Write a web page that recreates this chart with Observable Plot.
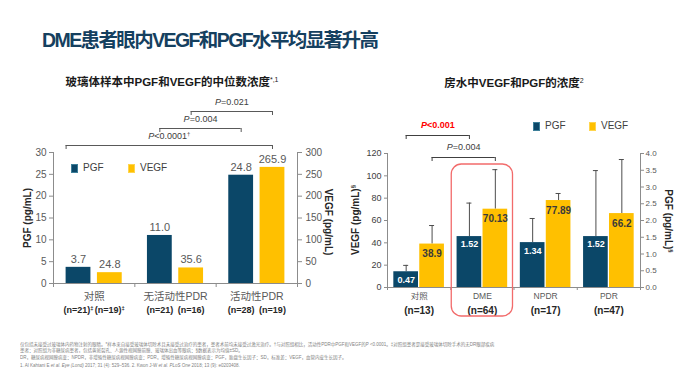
<!DOCTYPE html>
<html><head><meta charset="utf-8">
<script src="https://cdn.jsdelivr.net/npm/d3@7"></script>
<script src="https://cdn.jsdelivr.net/npm/@observablehq/plot@0.6"></script>
<style>
body{margin:0;background:#fff;font-family:"Liberation Sans","Noto Sans CJK SC",sans-serif;}
#page{position:relative;width:693px;height:381px;overflow:hidden;background:#fff;}
.abs{position:absolute;white-space:nowrap;}
.title{left:42px;top:27px;font-size:19.5px;line-height:26px;font-weight:bold;color:#15405f;letter-spacing:-1.6px;}
.sub{font-size:11.5px;line-height:14px;font-weight:bold;color:#1a1a1a;transform:translateX(-50%);}
.sub sup{font-size:7px;font-weight:normal;vertical-align:top;position:relative;top:-2px;}
.rot{font-size:10px;font-weight:bold;color:#262626;transform:translate(-50%,-50%) rotate(-90deg);}
.rot90{transform:translate(-50%,-50%) rotate(90deg);}
.rot sup{font-size:6px;vertical-align:top;}
.sw{position:absolute;width:7px;height:9px;box-sizing:border-box;}
.lg{position:absolute;font-size:10px;line-height:10px;color:#404040;transform:translateY(-50%);}
.fn{position:absolute;left:20px;width:950px;font-size:9px;line-height:12px;color:#7f7f7f;transform:scale(0.5);transform-origin:0 0;white-space:normal;}
.fn i{font-style:italic;}
.chart{position:absolute;}
</style></head><body><div id="page">
<div class="abs title">DME患者眼内VEGF和PGF水平均显著升高</div>
<div class="abs sub" style="left:172px;top:75px;">玻璃体样本中PGF和VEGF的中位数浓度<sup>*,1</sup></div>
<div class="abs sub" style="left:514px;top:76px;">房水中VEGF和PGF的浓度<sup>2</sup></div>
<div id="left" class="chart" style="left:0;top:90px;"></div>
<div id="right" class="chart" style="left:345px;top:100px;"></div>
<div class="abs rot" style="left:27px;top:218px;">PGF (pg/mL)</div>
<div class="abs rot rot90" style="left:328px;top:222px;">VEGF (pg/mL)</div>
<div class="abs rot" style="left:355px;top:220px;">VEGF (pg/mL)<sup>§</sup></div>
<div class="abs rot rot90" style="left:668px;top:221px;">PGF (pg/mL)<sup>§</sup></div>
<div id="legends"></div>
<div class="fn" style="top:341px;">仅包括未接受过玻璃体内药物注射的眼睛。*样本来自接受玻璃体切除术且未接受过治疗的患者，患者术前均未接受过激光治疗。†与对照组相比，活动性PDR中PGF和VEGF的P &lt;0.0001。‡对照组患者是接受玻璃体切除手术的无DR眼部疾病患者；对照组为非糖尿病患者，包括黄斑裂孔、人源性视网膜前膜、玻璃体出血等眼病；§数据表示为均值±SD。</div>
<div class="fn" style="top:354px;">DR，糖尿病视网膜病变；NPDR，非增殖性糖尿病视网膜病变；PDR，增殖性糖尿病视网膜病变；PGF，胎盘生长因子；SD，标准差；VEGF，血管内皮生长因子。</div>
<div class="fn" style="top:362px;">1. Al Kahtani E <i>et al. Eye (Lond)</i> 2017; 31 (4): 529–536. 2. Kwon J-W <i>et al. PLoS One</i> 2018; 13 (9): e0203408.</div>
</div>
<script>
const FONT = '"Liberation Sans","Noto Sans CJK SC",sans-serif';
const PGF_COLOR = "#0b4768";
const VEGF_COLOR = "#ffc000";
const seriesNames = ["PGF", "VEGF"];

// ---- Vitreous (left) data ----
const vitreousGroups = ["对照", "无活动性PDR", "活动性PDR"];
const vitreousPGF = [3.7, 11.0, 24.8];
const vitreousVEGF = [24.8, 35.6, 265.9];
const vitreousPGFn = ["(n=21)‡", "(n=21)", "(n=28)"];
const vitreousVEGFn = ["(n=19)‡", "(n=16)", "(n=19)"];
const vitreousPGFTicks = [0, 5, 10, 15, 20, 25, 30];
const vitreousVEGFTicks = [0, 50, 100, 150, 200, 250, 300];
const vitreousBrackets = [
  {from: [0, "PGF", "start"], to: [2, "VEGF", "mid"], label: "P<0.0001†"},
  {from: [1, "PGF", "mid"], to: [2, "PGF", "mid"], label: "P=0.004"},
  {from: [1, "VEGF", "mid"], to: [2, "VEGF", "mid"], label: "P=0.021"}
];

// ---- Aqueous (right) data ----
const aqueousGroups = ["对照", "DME", "NPDR", "PDR"];
const aqueousPGF = [0.47, 1.52, 1.34, 1.52];
const aqueousPGFsd = [0.19, 1.00, 0.72, 1.97];
const aqueousVEGF = [38.9, 70.13, 77.89, 66.2];
const aqueousVEGFsd = [16.6, 35.4, 6.3, 48.4];
const aqueousN = ["(n=13)", "(n=64)", "(n=17)", "(n=47)"];
const aqueousVEGFTicks = [0, 20, 40, 60, 80, 100, 120];
const aqueousPGFTicks = [0, 0.5, 1, 1.5, 2, 2.5, 3, 3.5, 4];
const aqueousBrackets = [
  {from: [0, "PGF"], to: [1, "PGF"], label: "P<0.001", highlight: true},
  {from: [0, "VEGF"], to: [1, "VEGF"], label: "P=0.004", highlight: false}
];
const aqueousHighlight = "DME";

const colorOf = s => s === "PGF" ? PGF_COLOR : VEGF_COLOR;

// ================= LEFT CHART =================
const L = {w: 345, h: 240, ml: 53, mr: 48, mt: 62, mb: 47};
const lYmax = vitreousPGFTicks[vitreousPGFTicks.length - 1];
const lRatio = vitreousVEGFTicks[vitreousVEGFTicks.length - 1] / lYmax;
const lPx = (L.h - L.mt - L.mb) / lYmax;
const lSlots = {PGF: [0.155, 0.46], VEGF: [0.54, 0.845]};
const lBars = [];
vitreousGroups.forEach((g, i) => {
  lBars.push({g, i, s: "PGF", v: vitreousPGF[i], y: vitreousPGF[i], n: vitreousPGFn[i]});
  lBars.push({g, i, s: "VEGF", v: vitreousVEGF[i], y: vitreousVEGF[i] / lRatio, n: vitreousVEGFn[i]});
});
lBars.forEach(d => { d.x1 = d.i + lSlots[d.s][0]; d.x2 = d.i + lSlots[d.s][1]; d.xc = (d.x1 + d.x2) / 2; d.label = d.v.toFixed(1); });
const lPos = ([i, s, a]) => a === "start" ? i + lSlots[s][0] : i + (lSlots[s][0] + lSlots[s][1]) / 2;
const lBr = vitreousBrackets.map((b, k) => ({...b, x1: lPos(b.from), x2: lPos(b.to), y: lYmax + (7 + 17 * k) / lPx}));

const leftPlot = Plot.plot({
  width: L.w, height: L.h, marginLeft: L.ml, marginRight: L.mr, marginTop: L.mt, marginBottom: L.mb,
  x: {domain: [0, vitreousGroups.length], axis: null},
  y: {domain: [0, lYmax], axis: null},
  color: {type: "identity"},
  style: {fontFamily: FONT, fontSize: "10px", color: "#595959", background: "transparent", overflow: "visible"},
  marks: [
    Plot.rect(lBars, {x1: "x1", x2: "x2", y1: 0, y2: "y", fill: d => colorOf(d.s)}),
    Plot.text(lBars, {x: "xc", y: "y", text: "label", dy: -8, fill: "#595959", fontSize: 11}),
    Plot.ruleY([0], {stroke: "#8c8c8c"}),
    Plot.ruleX([0, vitreousGroups.length], {y1: 0, y2: lYmax, stroke: "#8c8c8c"}),
    Plot.axisY({anchor: "left", ticks: vitreousPGFTicks, tickSize: 4, tickPadding: 3, label: null, stroke: "#8c8c8c", fill: "#595959", fontSize: 10}),
    Plot.axisY({anchor: "right", ticks: vitreousVEGFTicks.map(v => v / lRatio), tickFormat: d => Math.round(d * lRatio), tickSize: 4, tickPadding: 4, label: null, stroke: "#8c8c8c", fill: "#595959", fontSize: 10}),
    Plot.axisX({ticks: d3.range(vitreousGroups.length + 1), tickFormat: () => "", tickSize: 4, label: null, stroke: "#8c8c8c"}),
    Plot.text(vitreousGroups, {x: (d, i) => i + 0.5, y: 0, text: d => d, dy: 13, fill: "#595959", fontSize: 10.5}),
    Plot.text(lBars, {x: "xc", y: 0, text: "n", dy: 27, fontWeight: "bold", fill: "#262626", fontSize: 9}),
    Plot.ruleY(lBr, {y: "y", x1: "x1", x2: "x2", stroke: "#595959"}),
    Plot.ruleX(lBr, {x: "x1", y1: "y", y2: d => d.y - 4 / lPx, stroke: "#595959"}),
    Plot.ruleX(lBr, {x: "x2", y1: "y", y2: d => d.y - 4 / lPx, stroke: "#595959"}),
    Plot.text(lBr, {x: d => (d.x1 + d.x2) / 2, y: "y", text: "label", dy: -9, fill: "#404040", fontSize: 9})
  ]
});
document.getElementById("left").appendChild(leftPlot);

// ================= RIGHT CHART =================
const R = {w: 348, h: 230, ml: 42, mr: 53, mt: 53, mb: 43};
const rYmax = aqueousVEGFTicks[aqueousVEGFTicks.length - 1];
const rRatio = rYmax / aqueousPGFTicks[aqueousPGFTicks.length - 1];
const rPx = (R.h - R.mt - R.mb) / rYmax;
const rSlots = {PGF: [0.1, 0.49], VEGF: [0.51, 0.9]};
const rBars = [];
aqueousGroups.forEach((g, i) => {
  rBars.push({g, i, s: "PGF", v: aqueousPGF[i], y: aqueousPGF[i] * rRatio, top: (aqueousPGF[i] + aqueousPGFsd[i]) * rRatio});
  rBars.push({g, i, s: "VEGF", v: aqueousVEGF[i], y: aqueousVEGF[i], top: aqueousVEGF[i] + aqueousVEGFsd[i]});
});
rBars.forEach(d => {
  d.x1 = d.i + rSlots[d.s][0]; d.x2 = d.i + rSlots[d.s][1]; d.xc = (d.x1 + d.x2) / 2;
  d.label = d.s === "PGF" ? d.v.toFixed(2) : String(d.v);
  // label sits inside the bar, just below its top
  const inset = d.s === "PGF" ? Math.min(8, d.y * rPx / 2 + 1) : 10;
  d.ly = d.y - inset / rPx;
});
const rPos = ([i, s]) => i + (rSlots[s][0] + rSlots[s][1]) / 2;
const rBr = aqueousBrackets.map((b, k) => ({...b, x1: rPos(b.from), x2: rPos(b.to), y: rYmax + (18 - 22 * k) / rPx}));
const hiIdx = aqueousGroups.indexOf(aqueousHighlight);
const capHalf = 2.5 / ((R.w - R.ml - R.mr) / aqueousGroups.length);

const rightPlot = Plot.plot({
  width: R.w, height: R.h, marginLeft: R.ml, marginRight: R.mr, marginTop: R.mt, marginBottom: R.mb,
  x: {domain: [0, aqueousGroups.length], axis: null},
  y: {domain: [0, rYmax], axis: null},
  color: {type: "identity"},
  style: {fontFamily: FONT, fontSize: "9px", color: "#595959", background: "transparent", overflow: "visible"},
  marks: [
    Plot.ruleX(rBars, {x: "xc", y1: "y", y2: "top", stroke: "#4d4d4d"}),
    Plot.ruleY(rBars, {y: "top", x1: d => d.xc - capHalf, x2: d => d.xc + capHalf, stroke: "#4d4d4d"}),
    Plot.rect(rBars, {x1: "x1", x2: "x2", y1: 0, y2: "y", fill: d => colorOf(d.s)}),
    Plot.text(rBars.filter(d => d.s === "PGF"), {x: "xc", y: "ly", text: "label", fill: "#ffffff", fontWeight: "bold", fontSize: 9}),
    Plot.text(rBars.filter(d => d.s === "VEGF"), {x: "xc", y: "ly", text: "label", fill: "#3a3a3a", fontWeight: "bold", fontSize: 10}),
    Plot.ruleY([0], {stroke: "#8c8c8c"}),
    Plot.ruleX([0, aqueousGroups.length], {y1: 0, y2: rYmax, stroke: "#8c8c8c"}),
    Plot.axisY({anchor: "left", ticks: aqueousVEGFTicks, tickSize: 3, tickPadding: 3, label: null, stroke: "#8c8c8c", fill: "#404040", fontSize: 9}),
    Plot.axisY({anchor: "right", ticks: aqueousPGFTicks.map(v => v * rRatio), tickFormat: d => (d / rRatio).toFixed(1), tickSize: 3, tickPadding: 2, label: null, stroke: "#8c8c8c", fill: "#595959", fontSize: 8}),
    Plot.axisX({ticks: d3.range(aqueousGroups.length + 1), tickFormat: () => "", tickSize: 3, label: null, stroke: "#8c8c8c"}),
    Plot.text(aqueousGroups, {x: (d, i) => i + 0.5, y: 0, text: d => d, dy: 9, fill: "#595959", fontSize: 8.5}),
    Plot.text(aqueousN, {x: (d, i) => i + 0.5, y: 0, text: d => d, dy: 23, fontWeight: "bold", fill: "#262626", fontSize: 10}),
    Plot.rect([aqueousHighlight], {x1: hiIdx, x2: hiIdx + 1, inset: 1, y1: -30 / rPx, y2: rYmax - 10 / rPx, rx: 10, fill: "none", stroke: "#f26b6b", strokeWidth: 1.3}),
    Plot.ruleY(rBr, {y: "y", x1: "x1", x2: "x2", stroke: "#404040"}),
    Plot.ruleX(rBr, {x: "x1", y1: "y", y2: d => d.y - 4 / rPx, stroke: "#404040"}),
    Plot.ruleX(rBr, {x: "x2", y1: "y", y2: d => d.y - 4 / rPx, stroke: "#404040"}),
    Plot.text(rBr.filter(d => d.highlight), {x: d => (d.x1 + d.x2) / 2, y: "y", text: "label", dy: -10, fill: "#ff0000", fontWeight: "bold", fontSize: 9}),
    Plot.text(rBr.filter(d => !d.highlight), {x: d => (d.x1 + d.x2) / 2, y: "y", text: "label", dy: -10, fill: "#404040", fontSize: 9})
  ]
});
document.getElementById("right").appendChild(rightPlot);

// ---- legends ----
const legends = document.getElementById("legends");
[[71, 168, 57], [533, 126, 56]].forEach(([x0, yc, step]) => {
  seriesNames.forEach((s, k) => {
    const sw = document.createElement("div");
    sw.className = "sw";
    sw.style.left = (x0 + k * step) + "px";
    sw.style.top = (yc - 4.5) + "px";
    sw.style.background = colorOf(s);
    sw.style.border = "1px solid " + (s === "PGF" ? "#3d7f99" : "#ffd54d");
    legends.appendChild(sw);
    const t = document.createElement("div");
    t.className = "lg";
    t.style.left = (x0 + k * step + 12) + "px";
    t.style.top = yc + "px";
    t.textContent = s;
    legends.appendChild(t);
  });
});

// ---- rich text post-processing (italic P, superscript marks) ----
document.querySelectorAll("#left svg text, #right svg text").forEach(el => {
  if (el.children.length) return;
  let s = el.textContent;
  if (!/^P[<=]/.test(s) && !/[†‡§]/.test(s)) return;
  let html = s.replace(/[†‡§]/g, m => `<tspan font-size="65%" dy="-3">${m}</tspan>`);
  if (/^P[<=]/.test(s)) html = `<tspan font-style="italic">P</tspan>` + html.slice(1);
  el.innerHTML = html;
});
</script>
</body></html>
